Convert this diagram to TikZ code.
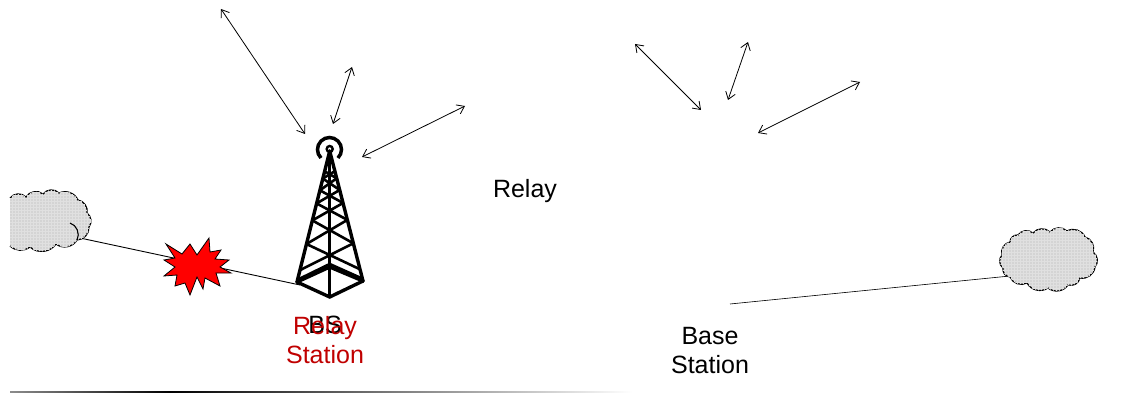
\documentclass[tikz,border=0pt]{standalone}
\usepackage{fontspec}
\setmainfont{Liberation Sans}
\usetikzlibrary{arrows.meta,calc,patterns}
\definecolor{darkred}{RGB}{192,0,0}
\tikzset{
  label/.style={font=\fontsize{25}{29}\selectfont, align=center, inner sep=0pt},
  link/.style={{Straight Barb[length=7pt,width=10pt]}-{Straight Barb[length=7pt,width=10pt]}, line width=0.8pt},
  wire/.style={line width=0.9pt},
  cloudy/.style={draw, line width=1.2pt, fill=black!17, postaction={pattern=grid, pattern color=black!12}},
  leg/.style={line width=3.4pt, line cap=round, line join=round},
  brace/.style={line width=2.6pt}
}
\begin{document}
\begin{tikzpicture}[x=1pt,y=-1pt]
\useasboundingbox (0,0) rectangle (1136,393);
% wires
\coordinate (cloudl) at (80,238);
\coordinate (towerfoot) at (300,285);
\coordinate (cloudr) at (1010,276);
\coordinate (basefoot) at (730,304);
\draw[wire] (cloudl) -- (towerfoot);
\draw[line width=0.6pt] (basefoot) -- (cloudr);
% left cloud
\path[cloudy] (10,198) to[bend left=50] (26,197) to[bend left=50] (43,194) to[bend left=50] (59,193)
  to[bend left=45] (78,200) to[bend left=45] (87,213) to[bend left=45] (89,227) to[bend left=45] (77,240)
  to[bend left=50] (56,244) to[bend left=50] (30,247) to[bend left=40] (10,246);
\draw[line width=1.1pt] (70,223) to[bend left=50] (77,240);
% right cloud
\path[cloudy] (1010,242) to[bend left=48] (1018,235) to[bend left=48] (1033,233) to[bend left=48] (1050,232)
  to[bend left=48] (1067,231) to[bend left=48] (1085,237) to[bend left=48] (1093,252) to[bend left=48] (1095,267)
  to[bend left=48] (1080,278) to[bend left=48] (1068,285) to[bend left=48] (1048,288) to[bend left=48] (1027,283)
  to[bend left=48] (1010,277) to[bend left=48] (1003,268) to[bend left=48] (1002,255) to[bend left=48] (1010,242);
% burst
\draw[fill=red, line width=0.8pt, line join=miter] (166,244) -- (182,254) -- (190,244) -- (197,255) -- (209,238)
  -- (210,252) -- (221,250) -- (215,259) -- (229,260) -- (220,267) -- (231,273) -- (216,273) -- (220,286)
  -- (205,278) -- (203,289) -- (197,277) -- (190,295) -- (185,283) -- (175,286) -- (177,275) -- (164,276)
  -- (175,267) -- (164,260) -- (175,258) -- cycle;
% tower
\coordinate (apex) at (329.7,151);
\coordinate (basel) at (297,282);
\coordinate (baser) at (363,281);
\coordinate (front) at (329.7,297);
\coordinate (back) at (329.7,267);
\draw[leg] (basel) -- (apex) -- (baser);
\draw[leg] (apex) -- (front);
\draw[leg] (basel) -- (front) -- (baser);
\draw[leg] (basel) -- (back) -- (baser);
\draw[brace] ($(basel)+(2,-3)$) -- ($(back)+(0,-3)$) -- ($(baser)+(-2,-3)$);
\foreach \ta/\tb in {.91/.71,.71/.53,.53/.40,.40/.30,.30/.21,.21/.155}{
  \draw[brace] ($(apex)!\ta!(basel)$) -- ($(apex)!\tb!(baser)$);
  \draw[brace] ($(apex)!\ta!(baser)$) -- ($(apex)!\tb!(basel)$);
}
\draw[line width=2.4pt] (329.7,149) circle (3pt);
\draw[line width=3.5pt] (321,158) arc[start angle=135, end angle=405, radius=12];
% arrows
\coordinate (la1) at (221,9);   \coordinate (lb1) at (305,134);
\coordinate (la2) at (352,67);  \coordinate (lb2) at (333,124);
\coordinate (la3) at (465,106); \coordinate (lb3) at (362,157);
\coordinate (ra1) at (635,44);  \coordinate (rb1) at (701,110);
\coordinate (ra2) at (748,42);  \coordinate (rb2) at (728,100);
\coordinate (ra3) at (860,82);  \coordinate (rb3) at (758,133);
\foreach \s in {l,r}
  \foreach \i in {1,2,3}
    \draw[link] (\s a\i) -- (\s b\i);
% rule
\coordinate (rulel) at (10,392);
\coordinate (rulem) at (170,392);
\coordinate (ruler) at (632,392);
\shade[left color=black!45, right color=black] ($(rulel)+(0,-.5)$) rectangle ($(rulem)+(0,.5)$);
\shade[left color=black, right color=white] ($(rulem)+(0,-.5)$) rectangle ($(ruler)+(0,.5)$);
% labels
\node[label] (bs) at (325,325) {BS};
\node[label, text=darkred] (relaystation) at (325,340) {Relay\\Station};
\node[label] (relay) at (525,191) {Relay};
\node[label] (basestation) at (710,351) {Base\\Station};
\end{tikzpicture}
\end{document}
